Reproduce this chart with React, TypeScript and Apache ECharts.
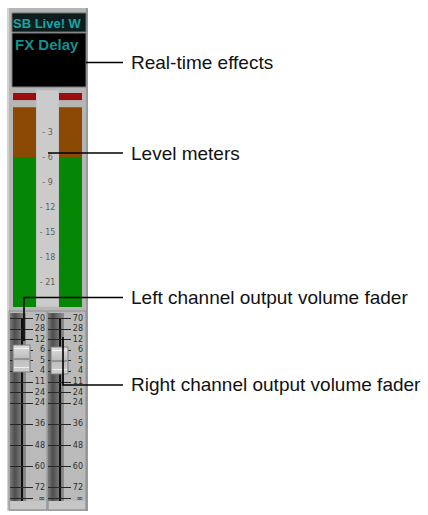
import React, { useEffect, useRef } from 'react';
import * as echarts from 'echarts';

// ---- data ----
const meterChannels = ['L', 'R'];
const meterLevelsDb = [0, 0];
const meterZoneBreaksDb = [-24, -6, 0];
const meterClipLit = [true, true];
const meterScaleDb = [-3, -6, -9, -12, -15, -18, -21];

const faderScaleLabels = ['70', '28', '12', '6', '5', '4', '11', '24', '24', '', '36', '', '48', '', '60', '', '72', '∞'];
const faderLevels = [3.8, 4.0];

const deviceTitle = 'SB Live! W';
const effectName = 'FX Delay';
const callouts = [
  'Real-time effects',
  'Level meters',
  'Left channel output volume fader',
  'Right channel output volume fader',
];

// ---- derived ----
const CLIP_LO = 0.85;
const CLIP_HI = 1.7;
const meterCats = [meterChannels[0], 'scale', meterChannels[1]];
const meterSegments: number[][] = [];
meterChannels.forEach((ch, i) => {
  const ci = meterCats.indexOf(ch);
  const lvl = meterLevelsDb[i];
  for (let z = 0; z < meterZoneBreaksDb.length - 1; z++) {
    const lo = meterZoneBreaksDb[z];
    const hi = Math.min(lvl, meterZoneBreaksDb[z + 1]);
    if (hi > lo) meterSegments.push([ci, lo, hi, z]);
  }
  if (meterClipLit[i]) meterSegments.push([ci, CLIP_LO, CLIP_HI, 2]);
});
const zoneColors = ['#058705', '#8a4a06', '#9c0c0c'];
const faderTickData = faderScaleLabels
  .map((l, i) => (l ? [0, i] : null))
  .filter((d) => d !== null) as number[][];

const labelFont = "'Liberation Sans Narrow', 'Arial Narrow', sans-serif";

function faderAxis(gridIndex: number) {
  return {
    gridIndex,
    type: 'value',
    min: 0,
    max: faderScaleLabels.length - 1,
    interval: 1,
    inverse: true,
    position: 'right',
    axisLine: { show: false },
    axisTick: { show: false },
    splitLine: { show: false },
    axisLabel: {
      show: true,
      formatter: (v: number) => faderScaleLabels[Math.round(v)] ?? '',
      align: 'right',
      margin: 12,
      fontSize: 8,
      color: '#2e2e2e',
      fontFamily: 'DejaVu Sans',
    },
  };
}

function faderTickSeries(idx: number) {
  return {
    type: 'custom',
    xAxisIndex: idx,
    yAxisIndex: idx,
    silent: true,
    data: faderTickData,
    renderItem: (_p: any, api: any) => {
      const a = api.coord([0, api.value(1)]);
      const b = api.coord([1, api.value(1)]);
      return {
        type: 'line',
        shape: { x1: a[0] - 2, y1: Math.round(a[1]) + 0.5, x2: b[0], y2: Math.round(b[1]) + 0.5 },
        style: { stroke: '#262626', lineWidth: 1 },
      };
    },
  };
}

function faderKnobSeries(idx: number, level: number) {
  return {
    type: 'custom',
    xAxisIndex: idx,
    yAxisIndex: idx,
    silent: true,
    z: 5,
    data: [[0.5, level]],
    renderItem: (_p: any, api: any) => {
      const c = api.coord([api.value(0), api.value(1)]);
      const w = 17;
      const h = 27;
      const x = Math.round(c[0] - w / 2 - 1);
      const y = Math.round(c[1] - h / 2);
      return {
        type: 'group',
        children: [
          {
            type: 'rect',
            shape: { x, y, width: w, height: h },
            style: {
              fill: new echarts.graphic.LinearGradient(0, 0, 0, 1, [
                { offset: 0, color: '#dedede' },
                { offset: 0.5, color: '#bdbdbd' },
                { offset: 1, color: '#d0d0d0' },
              ]),
              stroke: '#7c7c7c',
              lineWidth: 1,
            },
          },
          { type: 'line', shape: { x1: x + 1, y1: y + 3.5, x2: x + w - 1, y2: y + 3.5 }, style: { stroke: '#f4f4f4', lineWidth: 1 } },
          { type: 'line', shape: { x1: x + 1, y1: y + h / 2 + 0.5, x2: x + w - 1, y2: y + h / 2 + 0.5 }, style: { stroke: '#6a6a6a', lineWidth: 1 } },
          { type: 'line', shape: { x1: x + 1, y1: y + h - 4.5, x2: x + w - 1, y2: y + h - 4.5 }, style: { stroke: '#f0f0f0', lineWidth: 1 } },
        ],
      };
    },
  };
}

const darkColumn = (x: number) => ({
  type: 'rect',
  shape: { x, y: 313, width: 16, height: 188 },
  style: {
    fill: new echarts.graphic.LinearGradient(0, 0, 1, 0, [
      { offset: 0, color: '#7a7a7a' },
      { offset: 0.3, color: '#4e4e4e' },
      { offset: 0.6, color: '#6e6e6e' },
      { offset: 1, color: '#8e8e8e' },
    ]),
  },
});

const calloutLine = (points: number[][]) => ({
  type: 'polyline',
  z: 50,
  shape: { points },
  style: { stroke: '#000', lineWidth: 1.6, fill: 'none' },
});

const calloutText = (text: string, y: number) => ({
  type: 'text',
  z: 50,
  x: 131,
  y,
  style: { text, fill: '#111', fontSize: 19, fontFamily: labelFont, verticalAlign: 'middle', align: 'left' },
});

const option: any = {
  animation: false,
  backgroundColor: '#ffffff',
  grid: [
    { left: 13, top: 93, width: 69, height: 214 },
    { left: 12, top: 318, width: 21, height: 180 },
    { left: 50, top: 318, width: 21, height: 180 },
  ],
  xAxis: [
    { gridIndex: 0, type: 'category', data: meterCats, show: false },
    { gridIndex: 1, type: 'value', min: 0, max: 1, show: false },
    { gridIndex: 2, type: 'value', min: 0, max: 1, show: false },
  ],
  yAxis: [
    { gridIndex: 0, type: 'value', min: -24, max: CLIP_HI, show: false },
    faderAxis(1),
    faderAxis(2),
  ],
  graphic: [
    // strip chrome
    { type: 'rect', shape: { x: 7, y: 8, width: 81, height: 503 }, style: { fill: '#b5b5b5' } },
    { type: 'rect', shape: { x: 7, y: 8, width: 2, height: 503 }, style: { fill: '#d2d2d2' } },
    { type: 'rect', shape: { x: 86, y: 8, width: 2, height: 503 }, style: { fill: '#9a9a9a' } },
    { type: 'rect', shape: { x: 12, y: 13, width: 74, height: 19 }, style: { fill: '#0b1d1d', stroke: '#6e6e6e', lineWidth: 1 } },
    { type: 'text', x: 13, y: 23, style: { text: deviceTitle, fill: '#1aa5a5', fontSize: 13, fontWeight: 'bold', fontFamily: labelFont, verticalAlign: 'middle' } },
    { type: 'rect', shape: { x: 12, y: 33, width: 74, height: 54 }, style: { fill: '#000000', stroke: '#7a7a7a', lineWidth: 1 } },
    { type: 'text', x: 15, y: 44, style: { text: effectName, fill: '#168f8f', fontSize: 15, fontWeight: 'bold', fontFamily: labelFont, verticalAlign: 'middle' } },
    { type: 'rect', shape: { x: 36, y: 90, width: 23, height: 217 }, style: { fill: '#cbcbcb', stroke: '#bcbcbc', lineWidth: 1 } },
    // fader panels
    { type: 'rect', shape: { x: 9, y: 311, width: 38, height: 199 }, style: { fill: '#bababa', stroke: '#8e8e8e', lineWidth: 1 } },
    { type: 'rect', shape: { x: 48, y: 311, width: 38, height: 199 }, style: { fill: '#bababa', stroke: '#8e8e8e', lineWidth: 1 } },
    { type: 'rect', shape: { x: 10, y: 501, width: 36, height: 8 }, style: { fill: '#c6c6c6' } },
    { type: 'rect', shape: { x: 49, y: 501, width: 36, height: 8 }, style: { fill: '#c6c6c6' } },
    darkColumn(10),
    darkColumn(48),
    { type: 'rect', shape: { x: 21, y: 318, width: 2, height: 183 }, style: { fill: '#101010' } },
    { type: 'rect', shape: { x: 59, y: 318, width: 2, height: 183 }, style: { fill: '#101010' } },
    // callouts
    calloutLine([[86, 62.5], [123, 62.5]]),
    calloutText(callouts[0], 62),
    calloutLine([[48, 153], [123, 153]]),
    calloutText(callouts[1], 153),
    calloutLine([[24, 341], [24, 297.5], [123, 297.5]]),
    calloutText(callouts[2], 297),
    calloutLine([[63, 337], [63, 385], [123, 385]]),
    calloutText(callouts[3], 384),
  ],
  series: [
    {
      type: 'custom',
      xAxisIndex: 0,
      yAxisIndex: 0,
      silent: true,
      data: meterSegments,
      renderItem: (_p: any, api: any) => {
        const ci = api.value(0);
        const top = api.coord([ci, api.value(2)]);
        const bot = api.coord([ci, api.value(1)]);
        const w = api.size([1, 0])[0];
        return {
          type: 'rect',
          shape: { x: top[0] - w / 2, y: top[1], width: w, height: bot[1] - top[1] },
          style: { fill: zoneColors[api.value(3)] },
        };
      },
    },
    {
      type: 'scatter',
      xAxisIndex: 0,
      yAxisIndex: 0,
      silent: true,
      symbolSize: 1,
      itemStyle: { color: 'transparent' },
      data: meterScaleDb.map((v) => ['scale', v]),
      label: {
        show: true,
        position: 'inside',
        formatter: (p: any) => '- ' + Math.abs(p.value[1]),
        fontSize: 8,
        color: '#3e3e3e',
        fontFamily: 'DejaVu Sans',
      },
    },
    faderTickSeries(1),
    faderTickSeries(2),
    faderKnobSeries(1, faderLevels[0]),
    faderKnobSeries(2, faderLevels[1]),
  ],
};

export default function App() {
  const ref = useRef<HTMLDivElement>(null);
  useEffect(() => {
    const chart = echarts.init(ref.current!, null, { renderer: 'svg' });
    chart.setOption(option);
    return () => chart.dispose();
  }, []);
  return (
    <div
      ref={ref}
      style={{ position: 'fixed', left: 0, top: 0, width: 428, height: 515, background: '#ffffff' }}
    />
  );
}
